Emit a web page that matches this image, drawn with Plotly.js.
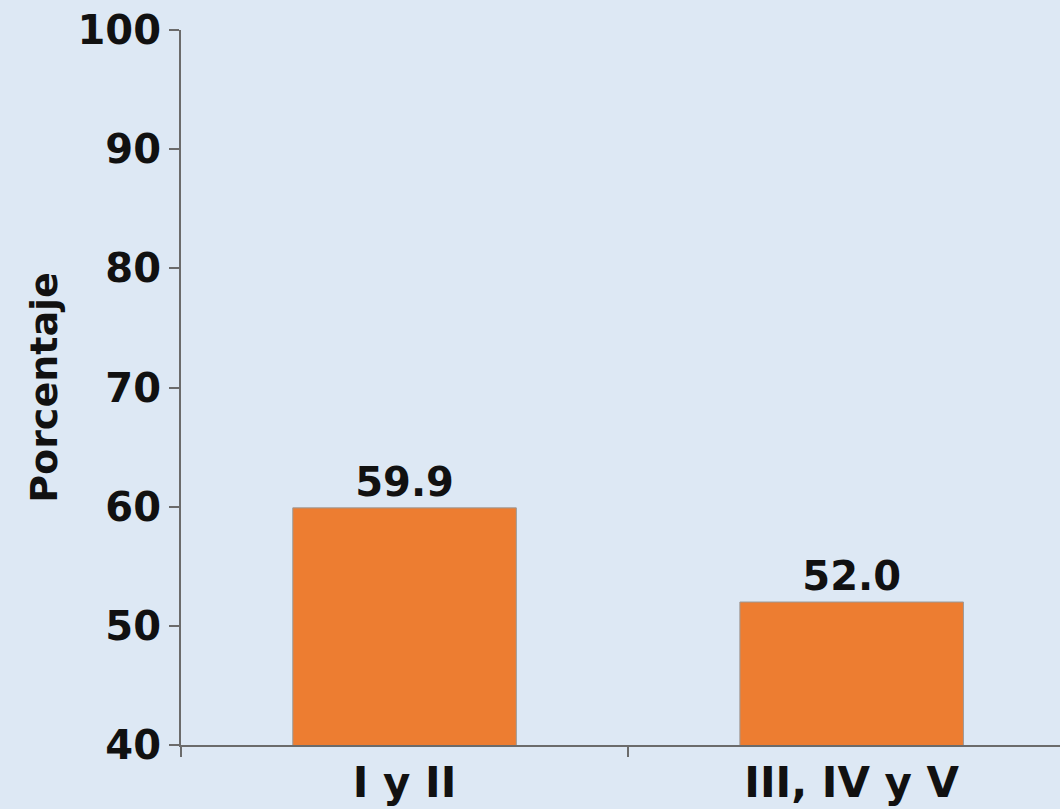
<!DOCTYPE html>
<html>
<head>
<meta charset="utf-8">
<script src="https://cdn.plot.ly/plotly-3.0.1.min.js"></script>
<style>
  html, body { margin: 0; padding: 0; background: #dde8f4; }
  #chart { width: 1060px; height: 809px; }
</style>
</head>
<body>
<div id="chart"></div>
<script>
// categories and values
const categories = ['I y II', 'III, IV y V'];
const values = [59.9, 52.0];
const valueLabels = ['59.9', '52.0'];

const BG = '#dde8f4';
const BAR_COLOR = '#ed7d31';
const AXIS_COLOR = '#6b6b6b';
const FONT = 'DejaVu Sans, Verdana, sans-serif';

const trace = {
  type: 'bar',
  x: categories,
  y: values,
  text: valueLabels,
  textposition: 'outside',
  cliponaxis: false,
  textfont: { family: FONT, size: 40, color: '#111', weight: 'bold' },
  marker: { color: BAR_COLOR, line: { color: '#9a9a9a', width: 1 } },
  width: 0.5,
  hoverinfo: 'none'
};

const layout = {
  width: 1060,
  height: 809,
  paper_bgcolor: BG,
  plot_bgcolor: BG,
  margin: { l: 181, r: 0, t: 30, b: 64 },
  showlegend: false,
  font: { family: FONT, color: '#111', weight: 'bold' },
  xaxis: {
    type: 'category',
    range: [-0.5, 1.466],
    showline: true,
    linecolor: AXIS_COLOR,
    linewidth: 2,
    ticks: 'outside',
    tickson: 'boundaries',
    ticklen: 10,
    tickcolor: AXIS_COLOR,
    tickwidth: 2,
    showgrid: false,
    zeroline: false,
    tickfont: { family: FONT, size: 42, color: '#111', weight: 'bold' }
  },
  yaxis: {
    range: [40, 100],
    dtick: 10,
    showline: true,
    linecolor: AXIS_COLOR,
    linewidth: 2,
    ticks: 'outside',
    ticklen: 10,
    tickcolor: AXIS_COLOR,
    tickwidth: 2,
    showgrid: false,
    zeroline: false,
    tickfont: { family: FONT, size: 40, color: '#111', weight: 'bold' },
    title: { text: 'Porcentaje', standoff: 8, font: { family: FONT, size: 38, color: '#111', weight: 'bold' } }
  }
};

Plotly.newPlot('chart', [trace], layout, { displayModeBar: false, staticPlot: true });
</script>
</body>
</html>
